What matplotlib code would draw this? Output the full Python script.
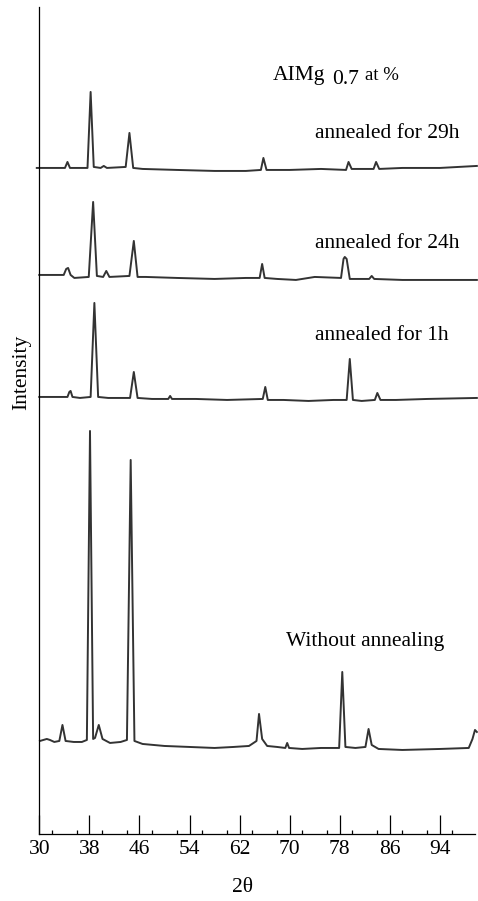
import matplotlib
matplotlib.use("Agg")
import matplotlib.pyplot as plt
from matplotlib.ticker import MultipleLocator

plt.rcParams['font.family'] = ['Liberation Serif', 'DejaVu Serif']

# 2theta / intensity vertices (arbitrary units, stacked)
tth_29h = [29.6, 33.5, 34.1, 34.5, 34.9, 36.5, 37.7, 38.2, 38.7, 39.8, 40.3, 40.8,
           43.8, 44.4, 45.0, 46.5, 52, 58, 63, 65.4, 65.8, 66.3, 70, 75,
           79.0, 79.4, 79.9, 83.4, 83.8, 84.3, 88, 94, 99.9]
int_29h = [666, 666, 666, 672, 666, 666, 666, 742, 667, 666, 668, 666,
           667, 701, 666, 665, 664, 663, 663, 664, 676, 664, 664, 665,
           664, 672, 665, 665, 672, 665, 666, 666, 668]

tth_24h = [30.0, 33.9, 34.3, 34.6, 35.0, 35.6, 37.9, 38.6, 39.2, 40.2, 40.7, 41.2,
           44.4, 45.1, 45.7, 47, 52, 58, 63, 65.2, 65.6, 66.0, 68, 71, 74,
           78.2, 78.6, 78.8, 79.1, 79.6, 81, 82.7, 83.1, 83.5, 88, 94, 99.9]
int_24h = [559, 559, 565, 566, 559, 556, 557, 632, 558, 557, 563, 557,
           558, 593, 557, 557, 556, 555, 556, 556, 570, 556, 555, 554, 557,
           556, 575, 577, 575, 555, 555, 555, 558, 555, 554, 554, 554]

tth_1h = [30.0, 34.5, 34.8, 35.0, 35.3, 36.5, 38.2, 38.8, 39.4, 41, 44.5, 45.1,
          45.7, 48, 50.6, 50.9, 51.2, 55, 60, 65.7, 66.1, 66.5, 69, 73, 77,
          79.1, 79.6, 80.1, 81.5, 83.6, 84.0, 84.5, 87, 92, 99.9]
int_1h = [437, 437, 442, 443, 437, 436, 437, 531, 437, 436, 436, 462,
          436, 435, 435, 438, 435, 435, 434, 435, 447, 434, 434, 433, 434,
          434, 475, 434, 433, 434, 441, 434, 434, 435, 436]

tth_raw = [30.1, 31.2, 31.7, 32.4, 33.2, 33.7, 34.2, 35.5, 36.8, 37.6, 38.1, 38.6,
           38.9, 39.5, 40.1, 41.3, 43.0, 44.0, 44.6, 45.2, 46.5, 50, 54, 58, 61,
           63.5, 64.7, 65.1, 65.6, 66.4, 68, 69.3, 69.6, 69.9, 72, 75, 77.9, 78.4,
           78.9, 80.5, 82.1, 82.6, 83.1, 84.2, 88, 94, 98.6, 99.2, 99.6, 99.9]
int_raw = [93, 95, 94, 92, 93, 109, 93, 92, 92, 94, 403, 95,
           96, 109, 95, 91, 92, 94, 374, 93, 90, 88, 87, 86, 87,
           88, 93, 120, 95, 88, 87, 86, 91, 86, 85, 86, 86, 162,
           87, 86, 87, 105, 89, 85, 84, 85, 86, 95, 104, 102]

xticks_major = [30, 38, 46, 54, 62, 70, 78, 86, 94]

fig = plt.figure(figsize=(4.78, 9.01), dpi=100)
ax = fig.add_axes([0.0822, 0.0744, 0.9115, 0.9179])

for tx, iy in [(tth_29h, int_29h), (tth_24h, int_24h), (tth_1h, int_1h), (tth_raw, int_raw)]:
    ax.plot(tx, iy, color='#333333', lw=1.4, clip_on=False)

ax.set_xlim(30, 99.6)
ax.set_ylim(0, 827)
ax.spines['top'].set_visible(False)
ax.spines['right'].set_visible(False)
ax.spines['left'].set_linewidth(0.9)
ax.spines['bottom'].set_linewidth(0.9)
ax.set_yticks([])
ax.set_xticks(xticks_major)
ax.xaxis.set_minor_locator(MultipleLocator(4))
ax.tick_params(axis='x', which='major', direction='in', length=13.5, width=0.9,
               labelsize=15.5, pad=4.5)
ax.tick_params(axis='x', which='minor', direction='in', length=3, width=0.9)

fs = 15.5
# title pieces: composition with lowered "0.7"
ax.text(67.3, 754, 'AIMg', fontsize=fs)
ax.text(76.8, 749.5, '0.7', fontsize=fs)
ax.text(82.0, 754, 'at %', fontsize=13.5)
ax.text(74.0, 696, 'annealed for 29h', fontsize=fs)
ax.text(74.0, 586, 'annealed for 24h', fontsize=fs)
ax.text(74.0, 494, 'annealed for 1h', fontsize=fs)
ax.text(69.4, 188, 'Without annealing', fontsize=fs)

fig.text(242 / 478, 1 - 888 / 901, '2θ', fontsize=fs, ha='center', va='center')
fig.text(22 / 478, 1 - 372 / 901, 'Intensity', fontsize=fs, ha='center', va='center',
         rotation=90)

fig.savefig('out.png', dpi=100)
